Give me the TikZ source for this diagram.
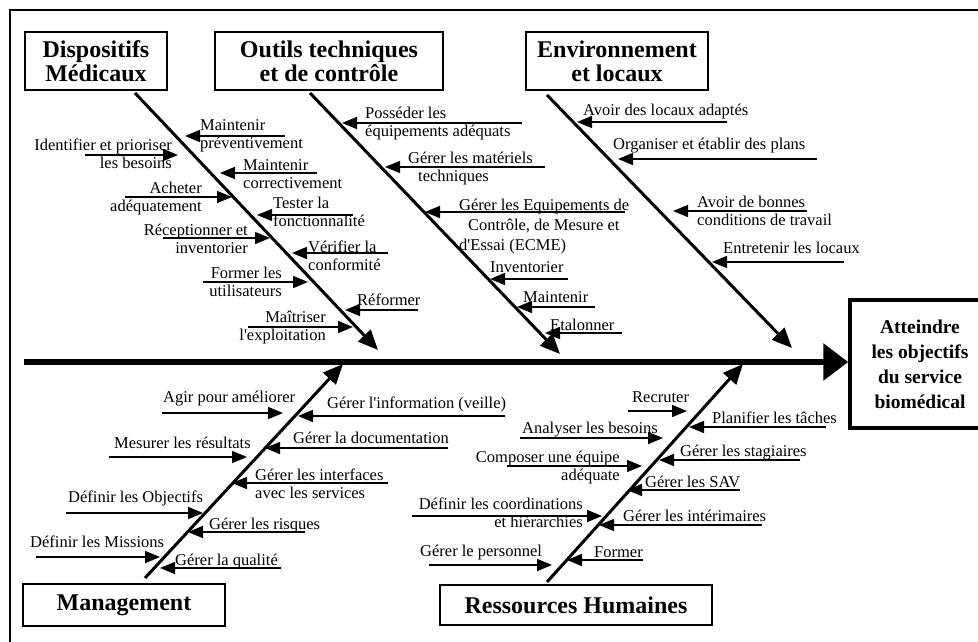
\documentclass[tikz,border=0pt]{standalone}
\usepackage{fontspec}
\setmainfont{Liberation Serif}
\newfontfamily\lserif{Liberation Serif}
\usetikzlibrary{arrows.meta}
\tikzset{
  lbl/.style={inner sep=0pt, font=\lserif\fontsize{16.5}{18.5}\selectfont},
  lblL/.style={lbl, align=left},
  lblR/.style={lbl, align=right},
  subar/.style={line width=1.6pt, -{Triangle[length=15pt,width=12pt]}},
  bone/.style={line width=3pt, -{Triangle[length=20pt,width=17pt]}},
  spine/.style={line width=6pt, -{Triangle[length=25pt,width=36pt]}},
  catbox/.style={draw, line width=1.5pt, inner sep=0pt, align=center,
     font=\lserif\fontsize{24}{24}\selectfont\bfseries},
  goalbox/.style={draw, line width=3.5pt, inner sep=0pt, align=center,
     font=\lserif\fontsize{19.5}{25}\selectfont\bfseries}
}
\newcommand\fbLab[4]{\node[#2] (#1) at (#3) {#4};}
\newcommand\fbArr[4]{\coordinate (#1t) at (#2,#4); \coordinate (#1h) at (#3,#4); \draw[subar] (#1t) -- (#1h);}
\begin{document}
\begin{tikzpicture}[x=1pt,y=-1pt]
\clip (0,0) rectangle (978,641);
\useasboundingbox (0,0) rectangle (978,641);
\fill[white] (0,0) rectangle (978,641);
% frame
\draw[line width=1.5pt] (10,645) -- (10,10) -- (985,10);

% category boxes
\node[catbox, minimum width=142, minimum height=58] (dm) at (96,61) {Dispositifs\\Médicaux};
\node[catbox, minimum width=228, minimum height=58] (ot) at (329,61) {Outils techniques\\et de contrôle};
\node[catbox, minimum width=182, minimum height=58] (env) at (617,61) {Environnement\\et locaux};
\node[catbox, minimum width=202, minimum height=42] (mg) at (124,605) {Management};
\node[catbox, minimum width=272, minimum height=40] (rh) at (576,605) {Ressources Humaines};
\node[goalbox, minimum width=140, minimum height=128] (goal) at (920,364) {Atteindre\\les objectifs\\du service\\biomédical};

% spine
\coordinate (spS) at (24,362);
\draw[spine] (spS) -- (spS -| goal.west);

% bones
\coordinate (dmS) at (135,93);   \coordinate (dmE) at (378,350);
\coordinate (otS) at (310,93);   \coordinate (otE) at (560,354);
\coordinate (envS) at (547,95);  \coordinate (envE) at (792,348);
\coordinate (mgS) at (145,578);  \coordinate (mgE) at (343,364);
\coordinate (rhS) at (547,582);  \coordinate (rhE) at (743,364);
\draw[bone] (dmS) -- (dmE);
\draw[bone] (otS) -- (otE);
\draw[bone] (envS) -- (envE);
\draw[bone] (mgS) -- (mgE);
\draw[bone] (rhS) -- (rhE);

% Dispositifs Medicaux - left
\fbLab{a1}{lblR,anchor=base east}{172,168.5}{Identifier et prioriser\\les besoins}
\fbArr{r1}{85}{178}{155}
\fbLab{a2}{lblR,anchor=base east}{202,211.5}{Acheter\\adéquatement}
\fbArr{r2}{125}{232}{197}
\fbLab{a3}{lblR,anchor=base east}{248,253.5}{Réceptionner et\\inventorier}
\fbArr{r3}{163}{270}{238}
\fbLab{a4}{lblR,anchor=base east}{282,296.5}{Former les\\utilisateurs}
\fbArr{r4}{203}{308}{282}
\fbLab{a5}{lblR,anchor=base east}{326,340.5}{Maîtriser\\l'exploitation}
\fbArr{r5}{248}{353}{327}
% Dispositifs Medicaux - right
\fbLab{a6}{lblL,anchor=base west}{200,148.5}{Maintenir\\préventivement}
\fbArr{r6}{285}{185}{136}
\fbLab{a7}{lblL,anchor=base west}{243,188.5}{Maintenir\\correctivement}
\fbArr{r7}{317}{220}{173}
\fbLab{a8}{lblL,anchor=base west}{273,226.5}{Tester la\\fonctionnalité}
\fbArr{r8}{353}{257}{215}
\fbLab{a9}{lblL,anchor=base west}{308,270.5}{Vérifier la\\conformité}
\fbArr{r9}{388}{292}{253}
\fbLab{a10}{lblL,anchor=base west}{357,305}{Réformer}
\fbArr{r10}{418}{345}{310}

% Outils
\fbLab{b1}{lblL,anchor=base west}{365,136.5}{Posséder les\\équipements adéquats}
\fbArr{s1}{522}{342}{123}
\fbLab{b2}{lblL,anchor=base west}{408,181.5}{Gérer les matériels\\\hspace*{10pt}techniques}
\fbArr{s2}{545}{385}{167}
\fbLab{b3}{lbl,align=left,font=\lserif\fontsize{16.5}{20}\selectfont,anchor=base west}{459,250}{Gérer les Equipements de\\\hspace*{9pt}Contrôle, de Mesure et\\d'Essai (ECME)}
\fbArr{s3}{625}{425}{212}
\fbLab{b4}{lblL,anchor=base west}{490,272}{Inventorier}
\fbArr{s4}{568}{490}{279}
\fbLab{b5}{lblL,anchor=base west}{523,302}{Maintenir}
\fbArr{s5}{595}{517}{307}
\fbLab{b6}{lblL,anchor=base west}{550,330}{Etalonner}
\fbArr{s6}{622}{545}{333}

% Environnement
\fbLab{c1}{lblL,anchor=base west}{583,115}{Avoir des locaux adaptés}
\fbArr{t1}{727}{577}{122}
\fbLab{c2}{lblL,anchor=base west}{613,149}{Organiser et établir des plans}
\fbArr{t2}{817}{618}{159}
\fbLab{c3}{lblL,anchor=base west}{697,225.5}{Avoir de bonnes\\conditions de travail}
\fbArr{t3}{807}{673}{211}
\fbLab{c4}{lblL,anchor=base west}{723,253}{Entretenir les locaux}
\fbArr{t4}{844}{712}{262}

% Management - left
\fbLab{d1}{lblL,anchor=base west}{163,402}{Agir pour améliorer}
\fbArr{u1}{162}{283}{413}
\fbLab{d2}{lblL,anchor=base west}{114,448}{Mesurer les résultats}
\fbArr{u2}{109}{247}{457}
\fbLab{d3}{lblL,anchor=base west}{68,502}{Définir les Objectifs}
\fbArr{u3}{66}{203}{513}
\fbLab{d4}{lblL,anchor=base west}{30,547}{Définir les Missions}
\fbArr{u4}{36}{160}{557}
% Management - right
\fbLab{d5}{lblL,anchor=base west}{327,408}{Gérer l'information (veille)}
\fbArr{u5}{505}{298}{416}
\fbLab{d6}{lblL,anchor=base west}{293,443}{Gérer la documentation}
\fbArr{u6}{448}{265}{448}
\fbLab{d7}{lblL,anchor=base west}{255,498.5}{Gérer les interfaces\\avec les services}
\fbArr{u7}{388}{232}{483}
\fbLab{d8}{lblL,anchor=base west}{209,529}{Gérer les risques}
\fbArr{u8}{305}{188}{532}
\fbLab{d9}{lblL,anchor=base west}{175,565}{Gérer la qualité}
\fbArr{u9}{281}{160}{568}

% Ressources Humaines - left
\fbLab{e1}{lblL,anchor=base west}{632,402}{Recruter}
\fbArr{v1}{628}{687}{411}
\fbLab{e2}{lblL,anchor=base west}{522,433}{Analyser les besoins}
\fbArr{v2}{520}{663}{438}
\fbLab{e3}{lblR,anchor=base east}{620,480.5}{Composer une équipe\\adéquate}
\fbArr{v3}{507}{642}{466}
\fbLab{e4}{lblR,anchor=base east}{583,527.5}{Définir les coordinations\\et hiérarchies}
\fbArr{v4}{412}{602}{516}
\fbLab{e5}{lblL,anchor=base west}{420,556}{Gérer le personnel}
\fbArr{v5}{429}{552}{565}
% Ressources Humaines - right
\fbLab{e6}{lblL,anchor=base west}{712,423}{Planifier les tâches}
\fbArr{v6}{826}{689}{427}
\fbLab{e7}{lblL,anchor=base west}{680,456}{Gérer les stagiaires}
\fbArr{v7}{800}{659}{460}
\fbLab{e8}{lblL,anchor=base west}{645,487}{Gérer les SAV}
\fbArr{v8}{740}{627}{490}
\fbLab{e9}{lblL,anchor=base west}{623,521}{Gérer les intérimaires}
\fbArr{v9}{762}{599}{525}
\fbLab{e10}{lblL,anchor=base west}{594,557}{Former}
\fbArr{v10}{643}{567}{560}
\end{tikzpicture}
\end{document}
